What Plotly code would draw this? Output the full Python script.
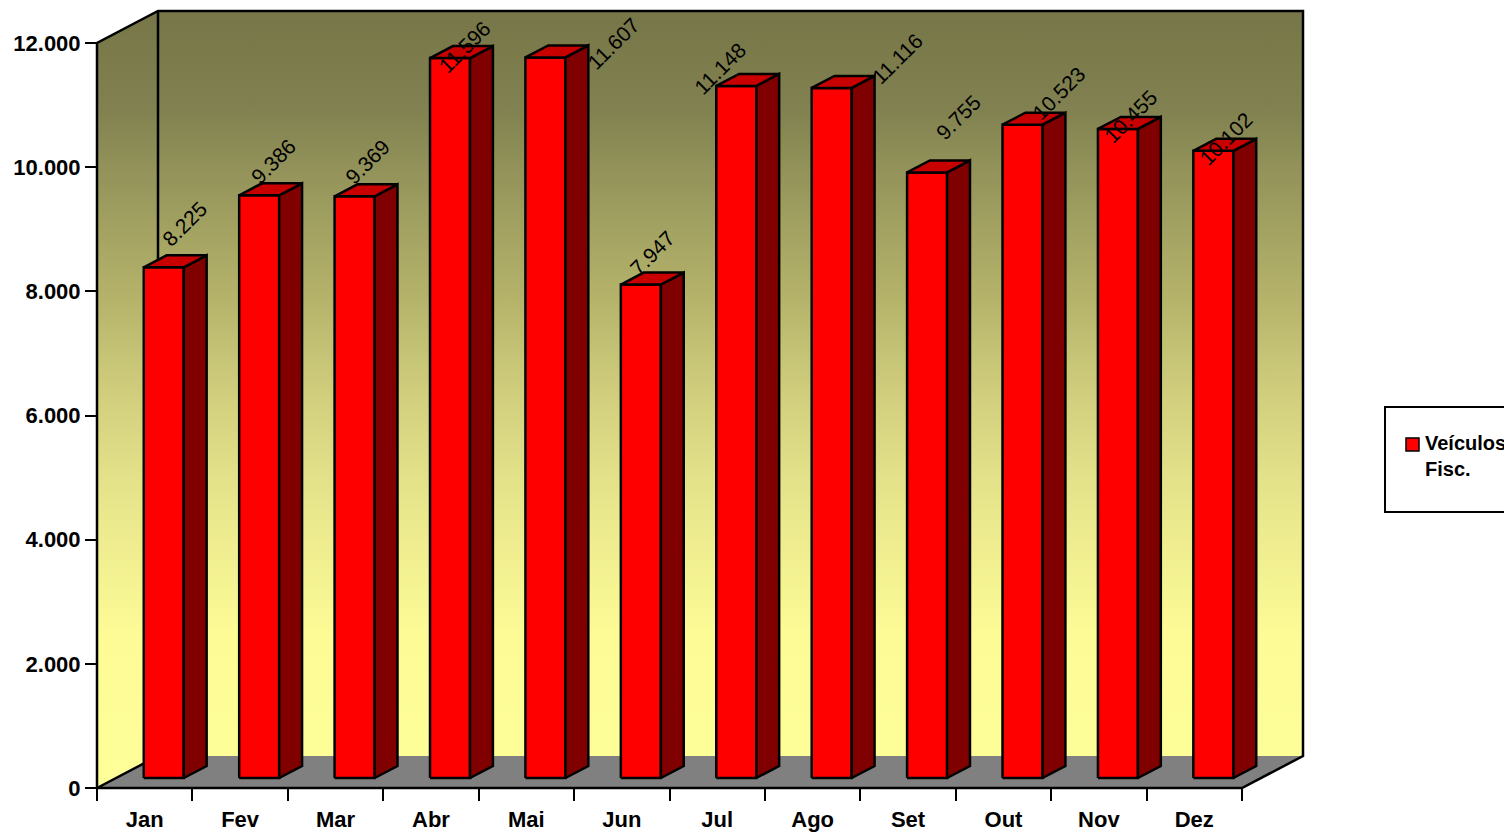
import plotly.graph_objects as go

# --- Data ---
months = ["Jan", "Fev", "Mar", "Abr", "Mai", "Jun", "Jul", "Ago", "Set", "Out", "Nov", "Dez"]
veiculos_fisc = [8225, 9386, 9369, 11596, 11607, 7947, 11148, 11116, 9755, 10523, 10455, 10102]
y_ticks = [0, 2000, 4000, 6000, 8000, 10000, 12000]
series_name = "Veículos<br>Fisc."

# label offsets (px) from the bar's front top-left corner, as placed in the original
label_off_x = [41, 34, 33, 34, 88, 32, 4, 86, 51, 56, 33, 33]
label_off_y = [44, 34, 35, 11, 14, 32, 17, 29, 55, 31, 12, 12]

# --- Geometry of the fake 3D frame (pixels -> data units) ---
PAGE_MARGIN = 8                # default <body> margin of the html page
W_PX, H_PX = 1512 - PAGE_MARGIN, 834 - PAGE_MARGIN
X0_PX, X12_PX = 97 - PAGE_MARGIN, 1242 - PAGE_MARGIN   # front axis, category 0 .. 12
Y0_PX, YMAX_PX = 788 - PAGE_MARGIN, 43 - PAGE_MARGIN   # value 0 .. 12000 on the front plane
YMAX = 12000
SX = (X12_PX - X0_PX) / len(months)
SY = (Y0_PX - YMAX_PX) / YMAX
DX = 61 / SX                   # wall depth
DY = 32 / SY
D0, D1 = 10 / 32, 22 / 32      # bar depth span
BW = 40 / SX                   # bar width

x_range = [-X0_PX / SX, (W_PX - X0_PX) / SX]
y_range = [-(H_PX - Y0_PX) / SY, Y0_PX / SY]

FONT = "Arial, Liberation Sans, sans-serif"
LW = 2.5
n = len(months)


def px_x(p):
    return (p - PAGE_MARGIN) / W_PX


def px_y(p):
    return 1 - (p - PAGE_MARGIN) / H_PX


fig = go.Figure()

# --- Walls (gradient) ---
wall_x = [0, 0, DX, n + DX, n + DX, DX, 0]
wall_y = [0, YMAX, YMAX + DY, YMAX + DY, DY, DY, 0]
fig.add_trace(go.Scatter(
    x=wall_x, y=wall_y, mode="lines", fill="toself", line=dict(width=0),
    fillgradient=dict(type="vertical", colorscale=[
        [0.0, "#ffff99"], [0.2, "#fcfb96"], [0.37, "#e8e68c"], [0.5, "#d2d07e"],
        [0.63, "#b5b36a"], [0.76, "#9a9a5e"], [0.88, "#808050"], [1.0, "#767648"]]),
    hoverinfo="skip", showlegend=False))

# --- Floor ---
fig.add_trace(go.Scatter(
    x=[0, n, n + DX, DX, 0], y=[0, 0, DY, DY, 0], mode="lines", fill="toself",
    fillcolor="#808080", line=dict(width=0), hoverinfo="skip", showlegend=False))

# --- Frame lines ---
fig.add_trace(go.Scatter(
    x=[0, 0, DX, n + DX, n + DX, n, 0, DX, DX],
    y=[0, YMAX, YMAX + DY, YMAX + DY, DY, 0, 0, DY, YMAX + DY],
    mode="lines", line=dict(color="black", width=LW), hoverinfo="skip", showlegend=False))

# --- Bars ---
ddx, ddy = (D1 - D0) * DX, (D1 - D0) * DY
front_x, front_y, side_x, side_y, top_x, top_y = [], [], [], [], [], []
for i, v in enumerate(veiculos_fisc):
    x0 = i + 0.5 - BW / 2 + D0 * DX
    x1 = x0 + BW
    yb = D0 * DY
    yt = v + D0 * DY
    front_x += [x0, x1, x1, x0, x0, None]
    front_y += [yb, yb, yt, yt, yb, None]
    side_x += [x1, x1 + ddx, x1 + ddx, x1, x1, None]
    side_y += [yb, yb + ddy, yt + ddy, yt, yb, None]
    top_x += [x0, x1, x1 + ddx, x0 + ddx, x0, None]
    top_y += [yt, yt, yt + ddy, yt + ddy, yt, None]

    fig.add_annotation(
        x=x0 + label_off_x[i] / SX, y=yt + label_off_y[i] / SY,
        text=f"{v:,}".replace(",", "."), textangle=-45, showarrow=False,
        font=dict(family=FONT, size=21, color="black"))

for xs, ys, col in [(front_x, front_y, "#ff0000"), (side_x, side_y, "#800000"), (top_x, top_y, "#c80000")]:
    fig.add_trace(go.Scatter(
        x=xs, y=ys, mode="lines", fill="toself", fillcolor=col,
        line=dict(color="black", width=LW), hoverinfo="skip", showlegend=False))

# --- Manual legend (box runs off the right edge as in the original) ---
fig.add_shape(type="rect", xref="paper", yref="paper",
              x0=px_x(1385), x1=1.05, y0=px_y(512), y1=px_y(407),
              line=dict(color="black", width=2), fillcolor="white")
fig.add_shape(type="rect", xref="paper", yref="paper",
              x0=px_x(1406), x1=px_x(1419), y0=px_y(451), y1=px_y(438),
              line=dict(color="black", width=1.5), fillcolor="#ff0000")
fig.add_annotation(xref="paper", yref="paper", x=px_x(1423), y=px_y(456),
                   xanchor="left", yanchor="middle", align="left", showarrow=False,
                   text=f"<b>{series_name}</b>".replace("<br>", "</b><br><b>"),
                   font=dict(family=FONT, size=20, color="black"))

# --- Layout ---
fig.update_layout(
    width=W_PX, height=H_PX,
    margin=dict(l=0, r=0, t=0, b=0),
    paper_bgcolor="white", plot_bgcolor="white",
    separators=",.",
    xaxis=dict(
        range=x_range, showgrid=False, zeroline=False, showline=False,
        tickvals=[i + 0.5 for i in range(n)], ticktext=months, ticks="",
        ticklabelstandoff=16,
        tickfont=dict(family=FONT, size=22, color="black", weight="bold"),
        minor=dict(tickvals=list(range(n + 1)), ticks="outside", ticklen=12,
                   tickwidth=2, tickcolor="black", showgrid=False),
        anchor="free", position=(H_PX - Y0_PX) / H_PX,
    ),
    yaxis=dict(
        range=y_range, showgrid=False, zeroline=False, showline=False,
        tickvals=y_ticks, tickformat=",d", ticks="outside", ticklen=12,
        tickwidth=2, tickcolor="black",
        tickfont=dict(family=FONT, size=22, color="black", weight="bold"),
        anchor="free", position=X0_PX / W_PX,
    ),
)

fig.write_html("out.html")
